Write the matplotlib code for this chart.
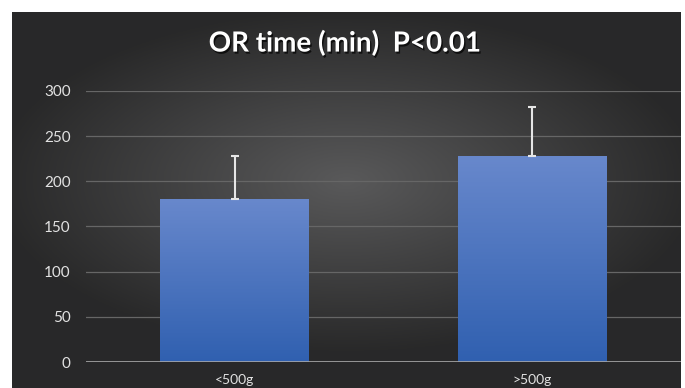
import numpy as np
import matplotlib.pyplot as plt
import matplotlib.patheffects as pe

categories = ['<500g', '>500g']
or_time = [180, 228]
err_up = [48, 54]
yticks = [0, 50, 100, 150, 200, 250, 300]
title = 'OR time (min)  P<0.01'

plt.rcParams['font.family'] = ['Lato', 'DejaVu Sans']

W, H = 685, 388
fig = plt.figure(figsize=(W/100, H/100), dpi=100)
fig.patch.set_facecolor('white')

# dark radial-gradient panel
bg = fig.add_axes([12/W, 0, (681-12)/W, (H-12)/H])
bg.set_axis_off()
gx, gy = np.meshgrid(np.linspace(-1, 1, 400), np.linspace(-1, 1, 240))
r = np.sqrt((gx*0.95)**2 + ((gy+0.1)*1.1)**2)
shade = np.clip(0.35 - 0.19*r, 0.16, 0.35)
bg.imshow(np.dstack([shade, shade, shade*1.01]), aspect='auto', extent=[0, 1, 0, 1])
bg.set_xlim(0, 1)
bg.set_ylim(0, 1)

ax = fig.add_axes([86/W, (H-362)/H, (681-86)/W, (362-91)/H])
ax.patch.set_alpha(0)
x = np.arange(len(categories))
bars = ax.bar(x, or_time, width=0.5, color='#4a74c0', zorder=2)

# vertical gradient inside each bar
grad = np.linspace(0, 1, 256).reshape(-1, 1)
top_c = np.array([0x68, 0x88, 0xcc]) / 255
bot_c = np.array([0x30, 0x60, 0xb0]) / 255
img = bot_c[None, None, :] * (1 - grad[..., None]) + top_c[None, None, :] * grad[..., None]
for b in bars:
    x0, y0 = b.get_x(), b.get_y()
    im = ax.imshow(img, origin='lower', aspect='auto', zorder=2.1,
                   extent=[x0, x0 + b.get_width(), y0, y0 + b.get_height()])
    im.set_clip_path(b)

ax.errorbar(x, or_time, yerr=[[0]*len(err_up), err_up], fmt='none',
            ecolor='#e6e6e6', elinewidth=1.5, capsize=3, capthick=1.5, zorder=3)

ax.set_xlim(-0.5, len(categories) - 0.5)
ax.set_ylim(0, 300)
ax.set_yticks(yticks)
ax.set_xticks(x)
ax.set_xticklabels(categories)
ax.grid(axis='y', color='#666666', linewidth=0.9, zorder=0)
ax.set_axisbelow(True)
for s in ax.spines.values():
    s.set_visible(False)
ax.axhline(0, color='#a8a8a8', linewidth=1.2, zorder=4)
ax.tick_params(length=0, colors='#e2e2e2', labelsize=11)
ax.tick_params(axis='y', pad=11)
ax.tick_params(axis='x', pad=9, labelsize=10)

fig.text(345/W, 1 - 43/H, title, ha='center', va='center', color='white',
         fontsize=20, fontweight='bold',
         path_effects=[pe.withSimplePatchShadow(offset=(1, -1.5), shadow_rgbFace='black', alpha=0.7)])

fig.savefig('out.png', dpi=100)
